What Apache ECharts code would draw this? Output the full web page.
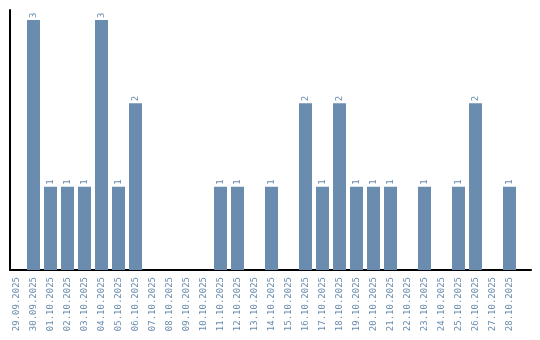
<!DOCTYPE html>
<html><head><meta charset="utf-8">
<script src="https://cdn.jsdelivr.net/npm/echarts@6/dist/echarts.min.js"></script>
<style>html,body{margin:0;padding:0;background:#fff}#c{width:540px;height:340px}</style>
</head><body><div id="c"></div>
<script>
var categories = ["29.09.2025","30.09.2025","01.10.2025","02.10.2025","03.10.2025","04.10.2025","05.10.2025","06.10.2025","07.10.2025","08.10.2025","09.10.2025","10.10.2025","11.10.2025","12.10.2025","13.10.2025","14.10.2025","15.10.2025","16.10.2025","17.10.2025","18.10.2025","19.10.2025","20.10.2025","21.10.2025","22.10.2025","23.10.2025","24.10.2025","25.10.2025","26.10.2025","27.10.2025","28.10.2025"];
var values = [0,3,1,1,1,3,1,2,0,0,0,0,1,1,0,1,0,2,1,2,1,1,1,0,1,0,1,2,0,1];
var chart = echarts.init(document.getElementById('c'), null, {renderer:'canvas'});
var font = 'DejaVu Sans Mono';
var col = '#6a8cae';
chart.setOption({
  animation:false,
  grid:[
    {left:8,right:22,top:10,bottom:70,containLabel:false},
    {left:10,right:9,top:10,bottom:70,containLabel:false}
  ],
  xAxis:[
    {type:'category',data:categories,gridIndex:0,
      axisLine:{show:false},axisTick:{show:false},
      axisLabel:{rotate:90,interval:0,fontFamily:font,fontSize:9,color:col,margin:7}},
    {type:'value',gridIndex:1,min:0,max:1,
      axisLine:{show:true,lineStyle:{color:'#000',width:2}},
      axisTick:{show:false},axisLabel:{show:false},splitLine:{show:false}}
  ],
  yAxis:[
    {type:'value',gridIndex:0,min:0,max:3.12,
      axisLine:{show:false},axisTick:{show:false},axisLabel:{show:false},splitLine:{show:false}},
    {type:'value',gridIndex:1,min:0,max:1,
      axisLine:{show:true,lineStyle:{color:'#000',width:2}},
      axisTick:{show:false},axisLabel:{show:false},splitLine:{show:false}}
  ],
  series:[{type:'bar',data:values,barWidth:13,xAxisIndex:0,yAxisIndex:0,z:1,
    itemStyle:{color:col},
    label:{show:true,position:'top',rotate:90,align:'left',verticalAlign:'middle',distance:2,
      fontFamily:font,fontSize:9,color:col,
      formatter:function(p){return p.value>0?String(p.value):'';}}}]
});
</script></body></html>
